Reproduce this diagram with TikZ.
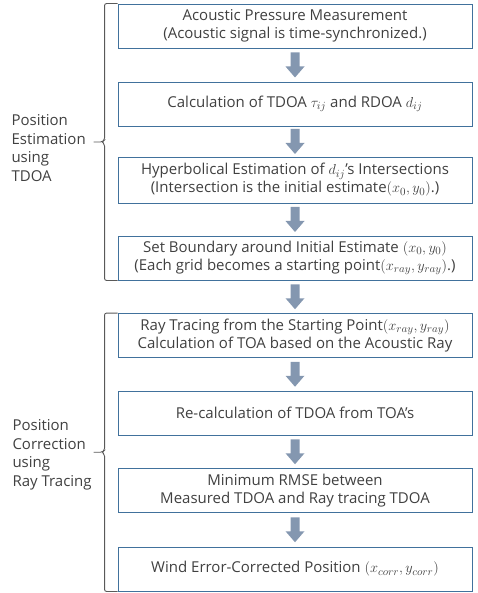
\documentclass[tikz,border=0pt]{standalone}
\usepackage{fontspec}
\setmainfont{Open Sans}
\usepackage{tikz}
\usetikzlibrary{positioning,calc}

\definecolor{boxblue}{HTML}{41719C}
\definecolor{arrowgray}{HTML}{8497B0}
\definecolor{textgray}{HTML}{404040}
\definecolor{bracegray}{HTML}{595959}

\tikzset{
    stepbox/.style={draw=boxblue, line width=0.9pt, minimum width=354pt, minimum height=44pt,
        align=center, text=textgray, inner sep=2pt, font=\fontsize{15}{18}\selectfont},
    bracket/.style={draw=bracegray, line width=0.9pt, rounded corners=2pt},
    phase/.style={align=left, text=textgray, anchor=west, font=\fontsize{15}{18.5}\selectfont}
}

\begin{document}
\begin{tikzpicture}[x=1pt, y=1pt]
    \useasboundingbox (0,0) rectangle (477,-593);

    % TDOA part
    \node[stepbox] (measure) at (295,-26) {Acoustic Pressure Measurement\\(Acoustic signal is time-synchronized.)};
    \node[stepbox] (tdoa) at (295,-104) {Calculation of TDOA $\tau_{ij}$ and RDOA $d_{ij}$};
    \node[stepbox, minimum height=46pt] (hyper) at (295,-180) {Hyperbolical Estimation of $d_{ij}$'s Intersections\\(Intersection is the initial estimate$(x_0,y_0)$.)};
    \node[stepbox] (boundary) at (295,-258) {Set Boundary around Initial Estimate $(x_0,y_0)$\\(Each grid becomes a starting point$(x_{ray},y_{ray})$.)};

    % ray tracing part
    \node[stepbox] (raytrace) at (295,-335.5) {Ray Tracing from the Starting Point$(x_{ray},y_{ray})$\\Calculation of TOA based on the Acoustic Ray};
    \node[stepbox] (recalc) at (295,-413) {Re-calculation of TDOA from TOA's};
    \node[stepbox] (rmse) at (295,-490.5) {Minimum RMSE between\\Measured TDOA and Ray tracing TDOA};
    \node[stepbox] (corrected) at (295,-569) {Wind Error-Corrected Position $(x_{corr},y_{corr})$};

    % block arrows between steps
    \foreach \a/\b in {measure/tdoa, tdoa/hyper, hyper/boundary, boundary/raytrace,
                       raytrace/recalc, recalc/rmse, rmse/corrected} {
        \coordinate (m) at ($(\a.south)!0.5!(\b.north)$);
        \fill[arrowgray] ($(m)+(-4.5,12.5)$) -- ++(9,0) -- ++(0,-14) -- ++(5,0)
            -- ++(-9.5,-11) -- ++(-9.5,11) -- ++(5,0) -- cycle;
    }

    % braces: tip sits half way down each group
    \coordinate (tipA) at ($(measure.north west)!0.5!(boundary.south west) + (-24,0)$);
    \coordinate (tipB) at ($(raytrace.north west)!0.5!(corrected.south west) + (-24,0)$);
    \draw[bracket] (measure.north west) -- ++(-13,0) -- ($(tipA)+(11,2)$) -- ($(tipA)+(9,0)$) -- (tipA)
        ($(tipA)+(9,0)$) -- ($(tipA)+(11,-2)$) -- ($(tipA |- boundary.south west)+(11,0)$) -- (boundary.south west);
    \draw[bracket] (raytrace.north west) -- ++(-13,0) -- ($(tipB)+(11,2)$) -- ($(tipB)+(9,0)$) -- (tipB)
        ($(tipB)+(9,0)$) -- ($(tipB)+(11,-2)$) -- ($(tipB |- corrected.south west)+(11,0)$) -- (corrected.south west);

    % phase labels
    \node[phase] (estim) at (8,-148) {Position\\Estimation\\using\\TDOA};
    \node[phase] (correct) at (9,-455) {Position\\Correction\\using\\Ray Tracing};
\end{tikzpicture}
\end{document}
